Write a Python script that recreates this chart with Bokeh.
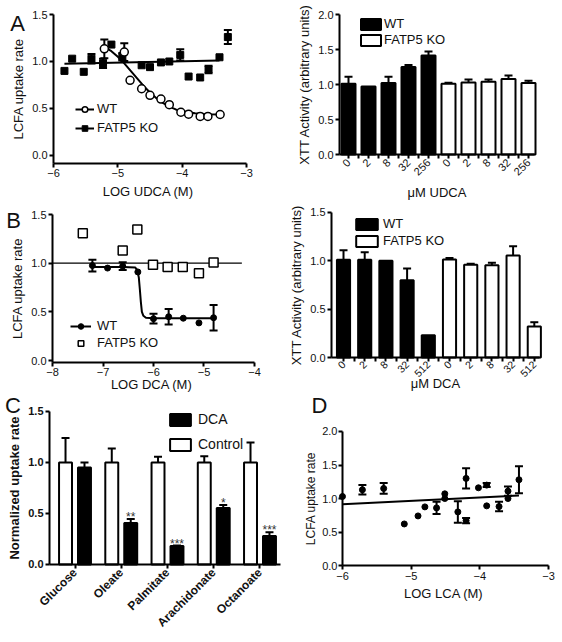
import math
from bokeh.plotting import figure
from bokeh.models import (ColumnDataSource, Whisker, TeeHead, Legend, LegendItem, Label,
                          FixedTicker, NumeralTickFormatter, Range1d)
from bokeh.layouts import column, row
from bokeh.embed import file_html
from bokeh.resources import INLINE
from bokeh.core.properties import value
from bokeh.transform import dodge

FONT = "Liberation Sans"

# ---------------- Panel A (left): LCFA uptake vs LOG UDCA ----------------
a_wt_x = [-5.21, -4.90, -4.81, -4.63, -4.50, -4.33, -4.20, -4.02, -3.90, -3.72, -3.60, -3.41]
a_wt_y = [1.135, 1.10, 0.80, 0.71, 0.64, 0.60, 0.54, 0.46, 0.44, 0.415, 0.415, 0.436]
a_wt_err = [0.10, 0.095, 0, 0, 0, 0, 0, 0, 0, 0, 0, 0]
a_wt_fit_x = [-5.2, -5.1, -5.0, -4.9, -4.8, -4.7, -4.6, -4.5, -4.4, -4.3, -4.2, -4.1, -4.0, -3.8, -3.6, -3.4]
a_wt_fit_y = [1.15, 1.11, 1.05, 0.98, 0.90, 0.82, 0.74, 0.67, 0.61, 0.56, 0.52, 0.49, 0.47, 0.45, 0.44, 0.435]
a_ko_x = [-5.83, -5.71, -5.53, -5.41, -5.23, -5.10, -4.93, -4.63, -4.50, -4.33, -4.20, -4.03, -3.90, -3.72, -3.59, -3.42, -3.29]
a_ko_y = [0.90, 1.03, 0.89, 1.03, 0.98, 1.18, 1.05, 0.96, 0.94, 0.99, 1.00, 1.07, 0.84, 0.83, 0.915, 1.045, 1.26]
a_ko_err = [0, 0, 0, 0.05, 0.05, 0, 0.04, 0, 0, 0, 0, 0.06, 0, 0, 0.04, 0, 0.075]
a_ko_fit_x = [-5.83, -3.42]
a_ko_fit_y = [0.975, 1.01]
a_xticks = [-6, -5, -4, -3]
a_yticks = [0.0, 0.5, 1.0, 1.5]

# ---------------- Panel A (right): XTT vs UDCA ----------------
a2_labels = ["0", "2", "8", "32", "256"]
a2_wt = [1.01, 0.97, 1.02, 1.25, 1.415]
a2_wt_err = [0.10, 0.0, 0.09, 0.03, 0.055]
a2_ko = [1.01, 1.03, 1.04, 1.08, 1.02]
a2_ko_err = [0.015, 0.04, 0.03, 0.05, 0.035]
a2_yticks = [0.0, 0.5, 1.0, 1.5, 2.0]

# ---------------- Panel B (left): LCFA uptake vs LOG DCA ----------------
b_wt_x = [-7.21, -6.91, -6.61, -6.31, -6.00, -5.70, -5.41, -5.10, -4.81]
b_wt_y = [0.976, 0.95, 0.97, 0.91, 0.43, 0.45, 0.435, 0.387, 0.44]
b_wt_err = [0.06, 0, 0.04, 0, 0.05, 0.08, 0, 0, 0.13]
b_wt_fit_x = [-7.21, -6.6, -6.36, -6.32, -6.29, -6.27, -6.25, -6.23, -6.20, -6.15, -6.0, -4.81]
b_wt_fit_y = [0.96, 0.96, 0.955, 0.93, 0.85, 0.73, 0.60, 0.50, 0.46, 0.44, 0.435, 0.435]
b_ko_x = [-7.40, -6.61, -6.32, -6.01, -5.72, -5.42, -5.10, -4.81]
b_ko_y = [1.308, 1.13, 1.346, 0.983, 0.96, 0.96, 0.897, 1.007]
b_ko_fit_x = [-8.0, -4.25]
b_ko_fit_y = [1.0, 1.0]
b_xticks = [-8, -7, -6, -5, -4]
b_yticks = [0.0, 0.5, 1.0, 1.5]

# ---------------- Panel B (right): XTT vs DCA ----------------
b2_labels = ["0", "2", "8", "32", "512"]
b2_wt = [1.01, 1.01, 1.0, 0.80, 0.23]
b2_wt_err = [0.10, 0.08, 0.0, 0.12, 0.0]
b2_ko = [1.015, 0.96, 0.955, 1.055, 0.32]
b2_ko_err = [0.015, 0.01, 0.025, 0.095, 0.045]
b2_yticks = [0.0, 0.5, 1.0, 1.5]

# ---------------- Panel C: normalized uptake ----------------
c_cats = ["Glucose", "Oleate", "Palmitate", "Arachidonate", "Octanoate"]
c_control = [1.0, 1.0, 1.0, 1.0, 1.0]
c_control_err = [0.24, 0.137, 0.055, 0.06, 0.195]
c_dca = [0.95, 0.407, 0.18, 0.554, 0.28]
c_dca_err = [0.05, 0.04, 0.005, 0.03, 0.036]
c_stars = ["", "**", "***", "*", "***"]
c_yticks = [0.0, 0.5, 1.0, 1.5]

# ---------------- Panel D: LCFA uptake vs LOG LCA ----------------
d_x = [-6.0, -5.71, -5.40, -5.10, -4.90, -4.80, -4.63, -4.51, -4.51, -4.32, -4.20, -4.20, -4.02, -3.90, -3.90, -3.72, -3.59, -3.59, -3.43]
d_y = [1.03, 1.13, 1.15, 0.62, 0.74, 0.875, 0.86, 1.07, 1.0, 0.80, 1.30, 0.67, 1.16, 1.20, 0.89, 0.88, 1.11, 1.0, 1.28]
d_err = [0, 0.07, 0.08, 0, 0, 0, 0.09, 0, 0, 0.16, 0.15, 0.04, 0, 0.03, 0, 0.07, 0.07, 0, 0.2]
d_fit_x = [-6.0, -3.43]
d_fit_y = [0.915, 1.045]
d_xticks = [-6, -5, -4, -3]
d_yticks = [0.0, 0.5, 1.0, 1.5, 2.0]


def make_fig(w, h, xr, yr, xloc, yloc, xbounds, ybounds, xticks, yticks, xlabel, ylabel, bold=False):
    # the frame fills the whole figure; both axes sit at fixed data locations inside it
    p = figure(width=w, height=h, x_range=Range1d(*xr), y_range=Range1d(*yr), title=None,
               min_border=0, output_backend="svg", toolbar_location=None, frame_align=False)
    p.grid.visible = False
    p.outline_line_color = None
    p.background_fill_color = "white"
    p.border_fill_color = "white"
    p.xaxis.ticker = FixedTicker(ticks=xticks)
    p.yaxis.ticker = FixedTicker(ticks=yticks)
    p.yaxis.formatter = NumeralTickFormatter(format="0.0")
    p.xaxis.fixed_location = xloc
    p.yaxis.fixed_location = yloc
    p.xaxis.bounds = xbounds
    p.yaxis.bounds = ybounds
    p.xaxis.axis_label = xlabel
    p.yaxis.axis_label = ylabel
    for ax in p.axis:
        ax.axis_line_width = 2
        ax.axis_line_color = "black"
        ax.major_tick_line_width = 2
        ax.major_tick_line_color = "black"
        ax.major_tick_out = 4
        ax.major_tick_in = 0
        ax.minor_tick_line_color = None
        ax.major_label_text_font = FONT
        ax.major_label_text_font_size = "11px"
        ax.major_label_text_color = "#111111"
        ax.major_label_text_font_style = "bold" if bold else "normal"
        ax.axis_label_text_font = FONT
        ax.axis_label_text_font_size = "13px"
        ax.axis_label_text_font_style = "bold" if bold else "normal"
        ax.axis_label_text_color = "#111111"
        ax.major_label_standoff = 2
        ax.axis_label_standoff = 3
    return p


def letter(p, txt, sx, sy):
    p.add_layout(Label(x=sx, y=sy, x_units="screen", y_units="screen", text=txt,
                       text_font=FONT, text_font_size="22px", text_align="center",
                       text_baseline="middle", text_color="#111111"))


def err_bars(p, xs, ys, es, both=True, size=8):
    sel = [(x, y, e) for x, y, e in zip(xs, ys, es) if e > 0]
    src = ColumnDataSource(dict(base=[s[0] for s in sel],
                                lower=[(s[1] - s[2]) if both else s[1] for s in sel],
                                upper=[s[1] + s[2] for s in sel]))
    w = Whisker(source=src, base="base", lower="lower", upper="upper", dimension="height",
                line_width=2, line_color="black", level="underlay",
                upper_head=TeeHead(size=size, line_width=2, line_color="black"),
                lower_head=TeeHead(size=size, line_width=2, line_color="black") if both else None)
    p.add_layout(w)


def legend(p, items, loc, gw, gh, standoff, spacing, fs="13px"):
    lg = Legend(items=items, location=loc, orientation="vertical", glyph_width=gw, glyph_height=gh,
                label_height=gh, label_width=10, label_standoff=standoff, spacing=spacing, padding=0,
                margin=0, border_line_color=None, background_fill_alpha=0,
                label_text_font=FONT, label_text_font_size=fs, label_text_color="#111111")
    p.add_layout(lg)


def bar_axis(p, labels, tick_out=4):
    n = len(labels)
    p.xaxis.ticker = FixedTicker(ticks=list(range(n)), minor_ticks=[i + 0.5 for i in range(n - 1)])
    p.xaxis.minor_tick_line_color = "black"
    p.xaxis.minor_tick_line_width = 2
    p.xaxis.minor_tick_out = tick_out
    p.xaxis.minor_tick_in = 0
    p.xaxis.major_label_overrides = {i: lab for i, lab in enumerate(labels)}
    p.xaxis.major_label_orientation = math.pi / 4


# ======== A left ========
pa = make_fig(281, 200, (-6.824, -2.456), (-0.479, 1.649), -0.085, -6, (-6, -3), (-0.085, 1.5),
              a_xticks, a_yticks, "LOG  UDCA (M)", "LCFA uptake rate")
err_bars(pa, a_ko_x, a_ko_y, a_ko_err)
err_bars(pa, a_wt_x, a_wt_y, a_wt_err)
ko_line = pa.line(a_ko_fit_x, a_ko_fit_y, line_color="black", line_width=2)
wt_line = pa.line(a_wt_fit_x, a_wt_fit_y, line_color="black", line_width=2)
ko_pts = pa.scatter(a_ko_x, a_ko_y, marker="square", size=7, fill_color="black", line_color="black")
wt_pts = pa.scatter(a_wt_x, a_wt_y, marker="circle", size=8, fill_color="white", line_color="black", line_width=1.5)
legend(pa, [LegendItem(label="WT", renderers=[wt_line, wt_pts]),
            LegendItem(label="FATP5 KO", renderers=[ko_line, ko_pts])], (75, 65), 19, 14, 3, 4)
letter(pa, "A", 17, 177)

# ======== A right ========
pa2 = make_fig(281, 200, (-3.35, 10.7), (-0.657, 2.2), 0, -0.45, (-0.45, 9.3), (0, 2.0),
               list(range(10)), a2_yticks, "μM UDCA", "XTT Activity (arbitrary units)")
bar_axis(pa2, a2_labels + a2_labels)
pa2.xaxis.axis_label_standoff = 3
a2_wt_x = list(range(len(a2_wt)))
a2_ko_x = [len(a2_wt) + i for i in range(len(a2_ko))]
err_bars(pa2, a2_wt_x, a2_wt, a2_wt_err, both=False)
err_bars(pa2, a2_ko_x, a2_ko, a2_ko_err, both=False)
wt_b = pa2.vbar(x=a2_wt_x, top=a2_wt, width=0.7, fill_color="black", line_color="black", line_width=2)
ko_b = pa2.vbar(x=a2_ko_x, top=a2_ko, width=0.7, fill_color="white", line_color="black", line_width=2)
legend(pa2, [LegendItem(label="WT", renderers=[wt_b]),
             LegendItem(label="FATP5 KO", renderers=[ko_b])], (77, 153), 25, 14, 1, 1)

# ======== B left ========
pb = make_fig(281, 192, (-9.03, -3.465), (-0.328, 1.644), -0.02, -8, (-8, -4), (-0.02, 1.5),
              b_xticks, b_yticks, "LOG  DCA (M)", "LCFA uptake rate")
pb.xaxis.major_label_standoff = 1
pb.xaxis.axis_label_standoff = -2
err_bars(pb, b_wt_x, b_wt_y, b_wt_err)
kob_line = pb.line(b_ko_fit_x, b_ko_fit_y, line_color="black", line_width=1.3)
wtb_line = pb.line(b_wt_fit_x, b_wt_fit_y, line_color="black", line_width=2)
wtb_pts = pb.scatter(b_wt_x, b_wt_y, marker="circle", size=6, fill_color="black", line_color="black")
kob_pts = pb.scatter(b_ko_x, b_ko_y, marker="square", size=9, fill_color="white", line_color="black", line_width=1.5)
legend(pb, [LegendItem(label="WT", renderers=[wtb_line, wtb_pts]),
            LegendItem(label="FATP5 KO", renderers=[kob_pts])], (70, 42), 21, 14, 6, 2)
letter(pb, "B", 13, 172)

# ======== B right ========
pb2 = make_fig(281, 192, (-2.925, 10.33), (-0.362, 1.624), 0, -0.566, (-0.566, 9.245), (0, 1.5),
               list(range(10)), b2_yticks, "μM DCA", "XTT Activity (arbitrary units)")
bar_axis(pb2, b2_labels + b2_labels)
pb2.xaxis.major_label_text_font_size = "10.5px"
pb2.xaxis.major_label_standoff = 1
pb2.xaxis.axis_label_standoff = -8
b2_wt_x = list(range(len(b2_wt)))
b2_ko_x = [len(b2_wt) + i for i in range(len(b2_ko))]
err_bars(pb2, b2_wt_x, b2_wt, b2_wt_err, both=False)
err_bars(pb2, b2_ko_x, b2_ko, b2_ko_err, both=False)
wt_b2 = pb2.vbar(x=b2_wt_x, top=b2_wt, width=0.62, fill_color="black", line_color="black", line_width=2)
ko_b2 = pb2.vbar(x=b2_ko_x, top=b2_ko, width=0.62, fill_color="white", line_color="black", line_width=2)
legend(pb2, [LegendItem(label="WT", renderers=[wt_b2]),
             LegendItem(label="FATP5 KO", renderers=[ko_b2])], (72, 144), 27, 14, 3, 2)

# ======== C ========
pc = make_fig(281, 250, (-1.611, 4.465), (-0.765, 1.686), 0, -0.551, (-0.551, 4.443), (0, 1.5),
              list(range(5)), c_yticks, "", "Normalized uptake rate", bold=True)
pc.xaxis.major_label_overrides = {i: lab for i, lab in enumerate(c_cats)}
pc.xaxis.major_label_orientation = math.pi / 4
pc.xaxis.major_label_text_font_size = "12px"
c_x = list(range(len(c_cats)))
src_c = ColumnDataSource(dict(x=c_x, control=c_control, dca=c_dca))
err_bars(pc, [x - 0.205 for x in c_x], c_control, c_control_err, both=False)
err_bars(pc, [x + 0.205 for x in c_x], c_dca, c_dca_err, both=False)
ctl_b = pc.vbar(x=dodge("x", -0.205, range=pc.x_range), top="control", width=0.28, source=src_c,
                fill_color="white", line_color="black", line_width=2)
dca_b = pc.vbar(x=dodge("x", 0.205, range=pc.x_range), top="dca", width=0.28, source=src_c,
                fill_color="black", line_color="black", line_width=2)
pc.text(x=[x + 0.205 for x in c_x], y=[d + e for d, e in zip(c_dca, c_dca_err)], text=c_stars,
        text_align="center", text_baseline="alphabetic", y_offset=-2,
        text_font=value(FONT), text_font_size="12px", text_color="#333333")
legend(pc, [LegendItem(label="DCA", renderers=[dca_b]),
            LegendItem(label="Control", renderers=[ctl_b])], (167, 190), 26, 15, 5, 9, fs="14px")
letter(pc, "C", 12.5, 237)

# ======== D ========
pd_ = make_fig(281, 250, (-6.888, -2.796), (-1.149, 2.582), 0, -6, (-6, -3), (0, 2.0),
               d_xticks, d_yticks, "LOG  LCA (M)", "LCFA uptake rate")
pd_.yaxis.axis_label_text_font_size = "12px"
pd_.yaxis.major_label_standoff = 1
pd_.yaxis.axis_label_standoff = 1
err_bars(pd_, d_x, d_y, d_err)
pd_.line(d_fit_x, d_fit_y, line_color="black", line_width=2)
pd_.scatter(d_x, d_y, marker="circle", size=6, fill_color="black", line_color="black")
letter(pd_, "D", 38, 237)

layout = column(row(pa, pa2), row(pb, pb2), row(pc, pd_))
open("out.html", "w").write(file_html(layout, INLINE))
